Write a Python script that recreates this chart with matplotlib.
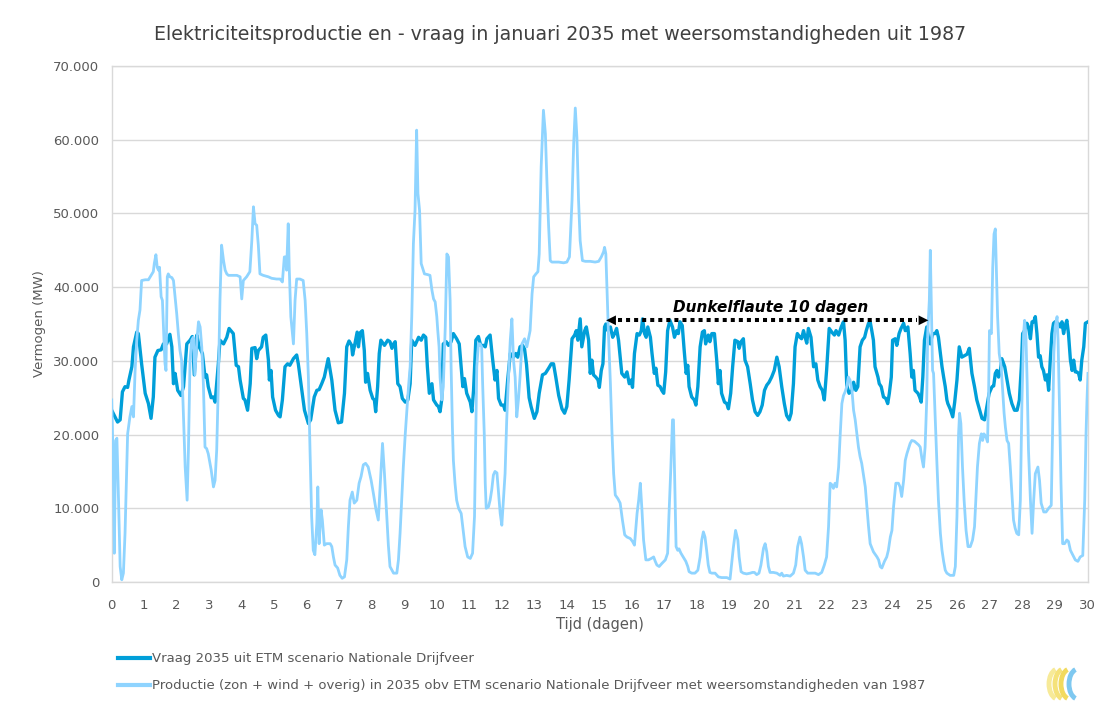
import matplotlib
matplotlib.use("Agg")
import matplotlib.pyplot as plt
from matplotlib.ticker import FuncFormatter, MultipleLocator
from matplotlib.patches import Arc

# ---------------- data (time in days, power in thousands of MW) ----------------
demand_t = [0.00,0.18,0.26,0.33,0.41,0.49,0.53,0.62,0.67,0.77,0.82,0.92,1.03,1.13,1.21,1.28,1.33,1.42,1.52,1.59,1.69,1.79,1.85,1.90,1.95,
            2.03,2.13,2.21,2.31,2.41,2.48,2.54,2.62,2.69,2.79,2.87,2.92,2.97,3.06,3.13,3.18,3.28,3.33,3.44,3.54,3.61,3.74,3.83,3.90,3.95,
            4.05,4.10,4.18,4.26,4.31,4.41,4.46,4.51,4.61,4.66,4.74,4.82,4.85,4.90,4.95,5.04,5.13,5.18,5.25,5.33,5.41,5.48,5.59,5.69,5.74,
            5.82,5.93,6.05,6.12,6.23,6.31,6.38,6.46,6.54,6.66,6.77,6.87,6.97,7.07,7.16,7.23,7.30,7.38,7.41,7.48,7.55,7.59,7.64,7.71,7.77,
            7.81,7.87,7.95,8.03,8.08,8.12,8.18,8.23,8.28,8.39,8.49,8.56,8.62,8.67,8.72,8.80,8.87,8.94,9.03,9.11,9.18,9.23,9.33,9.44,9.52,
            9.59,9.66,9.71,9.77,9.85,9.90,10.00,10.05,10.10,10.15,10.20,10.29,10.36,10.44,10.51,10.61,10.69,10.75,10.80,10.85,10.92,11.03,11.08,11.13,11.20,
            11.28,11.35,11.44,11.49,11.54,11.64,11.71,11.79,11.85,11.90,11.98,12.05,12.10,12.18,12.26,12.36,12.43,12.49,12.56,12.64,12.70,12.76,12.84,12.90,13.00,
            13.08,13.15,13.25,13.34,13.44,13.52,13.59,13.66,13.75,13.85,13.93,14.00,14.07,14.16,14.24,14.29,14.34,14.41,14.46,14.55,14.60,14.67,14.72,14.77,14.82,
            14.89,14.96,15.00,15.06,15.11,15.16,15.20,15.26,15.34,15.41,15.47,15.53,15.59,15.69,15.78,15.85,15.92,15.98,16.02,16.08,16.16,16.23,16.29,16.33,16.39,
            16.44,16.49,16.57,16.62,16.69,16.74,16.80,16.87,16.92,16.98,17.04,17.10,17.17,17.25,17.31,17.38,17.43,17.48,17.55,17.61,17.67,17.72,17.76,17.84,17.92,
            17.97,18.03,18.10,18.17,18.23,18.27,18.35,18.40,18.46,18.54,18.61,18.66,18.71,18.76,18.85,18.92,18.97,19.04,19.10,19.17,19.26,19.30,19.36,19.43,19.48,
            19.56,19.64,19.71,19.79,19.87,19.94,20.01,20.08,20.15,20.22,20.30,20.38,20.46,20.53,20.61,20.69,20.76,20.84,20.90,20.97,21.02,21.09,21.17,21.22,21.28,
            21.33,21.38,21.43,21.51,21.59,21.66,21.72,21.79,21.86,21.92,21.99,22.07,22.15,22.23,22.28,22.36,22.44,22.51,22.56,22.61,22.68,22.77,22.82,22.89,22.95,
            23.02,23.09,23.16,23.21,23.28,23.33,23.38,23.43,23.48,23.57,23.61,23.67,23.74,23.81,23.87,23.92,23.98,24.02,24.10,24.15,24.22,24.28,24.36,24.41,24.49,
            24.56,24.61,24.66,24.71,24.80,24.85,24.90,24.95,25.00,25.07,25.12,25.18,25.25,25.33,25.38,25.43,25.49,25.54,25.59,25.64,25.69,25.72,25.79,25.87,25.93,
            26.00,26.07,26.15,26.23,26.31,26.38,26.46,26.54,26.61,26.70,26.77,26.85,26.92,26.99,27.08,27.13,27.18,27.23,27.28,27.33,27.38,27.47,27.54,27.61,27.69,
            27.77,27.85,27.92,27.98,28.02,28.08,28.15,28.20,28.26,28.31,28.36,28.41,28.46,28.51,28.56,28.61,28.66,28.72,28.77,28.82,28.87,28.92,28.97,29.02,29.11,
            29.18,29.23,29.28,29.33,29.38,29.43,29.49,29.54,29.59,29.64,29.69,29.74,29.79,29.84,29.90,29.95,30.03]
demand_k = [23.3,21.7,22.0,25.8,26.5,26.4,27.4,29.2,31.9,33.9,33.7,29.6,25.6,24.2,22.2,25.1,30.5,31.4,31.5,32.3,32.3,33.6,31.9,26.9,28.3,
            26.0,25.3,26.5,32.3,32.8,33.3,28.1,33.5,31.9,31.0,27.8,28.1,26.5,25.0,25.1,24.4,29.6,32.8,32.3,33.2,34.4,33.7,29.4,29.2,27.4,
            24.9,24.7,23.3,26.9,31.7,31.8,30.3,31.4,31.9,33.2,33.5,30.1,27.4,28.7,25.1,23.3,22.6,22.4,24.7,29.2,29.6,29.4,30.3,30.8,29.6,
            26.9,23.3,21.5,22.0,25.1,26.0,26.1,26.9,27.8,30.3,27.4,23.3,21.6,21.7,25.6,31.9,32.7,32.1,30.8,32.3,33.9,31.9,33.8,34.1,31.4,
            27.1,28.3,26.0,24.9,24.7,23.1,26.5,31.0,32.8,32.1,32.8,32.6,31.7,32.3,32.6,26.9,26.5,24.9,24.4,24.7,26.9,32.8,32.1,33.2,32.8,
            33.5,33.2,29.2,25.6,26.9,24.7,24.0,23.8,23.1,24.7,32.3,32.6,32.1,32.6,33.7,33.0,32.3,29.2,26.5,27.6,25.6,24.4,23.1,26.0,32.8,
            33.3,32.1,32.1,31.9,33.0,33.5,30.5,27.4,28.7,24.9,24.0,24.0,23.3,27.4,31.0,30.5,31.0,30.5,31.9,32.1,31.6,29.5,25.0,23.8,22.2,
            23.1,25.6,28.1,28.3,29.0,29.6,29.6,27.8,25.3,23.5,22.9,23.8,27.4,33.0,33.5,34.1,32.8,35.7,31.9,34.1,34.6,32.8,28.3,30.1,28.1,
            27.8,27.4,26.4,28.7,29.6,34.6,35.0,34.1,34.6,33.2,33.7,34.4,32.8,28.3,27.8,28.5,26.9,27.4,26.4,31.0,33.7,33.5,34.1,35.7,33.7,
            33.2,34.6,33.2,31.0,28.3,29.0,26.7,26.5,26.0,25.6,28.5,34.1,35.5,34.6,33.2,34.1,33.7,35.3,34.8,31.4,28.3,29.4,26.5,25.1,24.7,
            24.0,26.5,31.9,33.9,34.1,32.3,33.5,32.6,33.7,33.7,30.1,26.9,28.7,25.6,24.4,24.2,23.5,25.6,29.2,32.8,32.6,31.7,32.6,33.0,30.1,
            29.2,26.9,24.7,23.1,22.6,23.1,24.0,26.0,26.7,27.1,27.8,28.7,30.5,29.2,26.5,24.2,22.6,22.0,22.9,26.9,31.9,33.7,33.2,33.0,34.1,
            33.2,32.4,34.4,33.2,29.2,29.6,27.4,26.5,26.0,24.7,28.7,34.4,33.9,33.5,34.1,33.5,34.6,35.3,32.8,26.7,25.6,26.0,27.1,26.0,26.5,
            31.9,32.8,33.2,34.1,35.1,35.3,34.1,32.8,29.2,27.8,26.9,26.5,25.1,24.9,24.2,25.6,27.8,32.8,33.0,32.1,33.7,34.4,35.1,34.1,34.6,
            31.0,27.8,28.7,26.0,25.6,25.1,24.4,27.8,32.8,34.6,33.2,32.3,33.7,33.7,34.1,33.2,31.0,29.2,27.8,26.5,24.7,24.2,23.5,22.4,24.4,
            27.4,31.9,30.5,30.7,30.9,31.7,28.3,26.5,24.7,23.3,22.2,22.0,23.8,25.6,26.5,26.6,28.3,28.7,27.8,28.5,30.3,29.2,27.4,25.6,24.2,
            23.3,23.3,24.7,29.2,33.7,34.1,35.1,34.6,33.0,35.3,35.3,36.0,33.7,30.5,30.7,29.2,28.7,27.4,28.1,26.0,30.1,33.7,35.1,35.3,35.1,
            34.6,35.3,33.7,34.8,35.5,33.7,30.1,28.7,30.1,28.5,28.5,28.3,27.4,30.1,31.9,35.1,35.3]

prod_t = [0.00,0.05,0.08,0.12,0.16,0.21,0.26,0.31,0.36,0.41,0.49,0.56,0.62,0.67,0.72,0.77,0.82,0.87,0.92,1.03,1.13,1.21,1.28,1.31,1.36,
          1.40,1.44,1.47,1.52,1.56,1.60,1.64,1.67,1.71,1.74,1.79,1.85,1.90,1.95,2.00,2.05,2.10,2.15,2.21,2.26,2.32,2.36,2.41,2.46,2.51,
          2.56,2.62,2.67,2.72,2.77,2.82,2.87,2.92,2.97,3.06,3.13,3.18,3.23,3.28,3.33,3.38,3.44,3.49,3.54,3.59,3.69,3.85,3.95,4.00,4.05,
          4.15,4.25,4.31,4.36,4.41,4.46,4.51,4.56,4.66,4.82,4.92,5.07,5.18,5.25,5.31,5.35,5.38,5.43,5.46,5.51,5.59,5.64,5.69,5.79,5.89,
          5.95,6.00,6.05,6.10,6.15,6.20,6.25,6.31,6.34,6.38,6.44,6.48,6.54,6.61,6.72,6.77,6.82,6.87,6.95,7.02,7.09,7.16,7.23,7.28,7.33,
          7.40,7.46,7.54,7.61,7.67,7.74,7.81,7.89,7.98,8.05,8.13,8.20,8.25,8.33,8.39,8.46,8.51,8.56,8.67,8.77,8.82,8.87,8.92,8.97,9.03,
          9.08,9.13,9.18,9.23,9.28,9.33,9.38,9.42,9.47,9.52,9.57,9.62,9.72,9.79,9.85,9.90,9.95,10.00,10.03,10.07,10.10,10.15,10.20,10.26,10.31,
          10.36,10.41,10.44,10.48,10.51,10.56,10.61,10.67,10.75,10.82,10.87,10.95,11.03,11.10,11.16,11.20,11.23,11.28,11.33,11.38,11.41,11.46,11.49,11.52,11.59,
          11.64,11.69,11.74,11.79,11.85,11.90,11.95,12.00,12.05,12.10,12.15,12.21,12.26,12.31,12.36,12.41,12.46,12.51,12.56,12.62,12.70,12.77,12.87,12.93,12.98,
          13.05,13.11,13.15,13.21,13.28,13.34,13.39,13.44,13.49,13.54,13.75,13.90,14.00,14.08,14.16,14.21,14.26,14.31,14.36,14.41,14.48,14.57,14.72,14.87,14.98,
          15.06,15.13,15.16,15.20,15.23,15.28,15.34,15.39,15.44,15.49,15.57,15.64,15.71,15.78,15.85,15.95,16.02,16.08,16.16,16.21,16.26,16.31,16.36,16.43,16.51,
          16.60,16.67,16.72,16.77,16.84,16.92,17.03,17.10,17.14,17.20,17.25,17.28,17.31,17.36,17.41,17.45,17.51,17.58,17.66,17.72,17.76,17.84,17.94,18.03,18.10,
          18.15,18.20,18.25,18.30,18.35,18.40,18.46,18.56,18.66,18.76,18.92,19.02,19.07,19.12,19.19,19.26,19.30,19.36,19.43,19.53,19.64,19.71,19.77,19.84,19.91,
          19.97,20.05,20.10,20.15,20.20,20.25,20.35,20.46,20.56,20.61,20.66,20.76,20.87,20.97,21.04,21.10,21.17,21.22,21.28,21.33,21.41,21.54,21.64,21.74,21.84,
          21.92,21.99,22.05,22.10,22.15,22.20,22.25,22.30,22.36,22.41,22.46,22.51,22.56,22.61,22.66,22.71,22.77,22.82,22.87,22.92,22.97,23.02,23.07,23.13,23.18,
          23.23,23.28,23.33,23.43,23.54,23.59,23.64,23.69,23.77,23.84,23.89,23.95,24.00,24.05,24.12,24.20,24.25,24.30,24.36,24.41,24.46,24.51,24.56,24.61,24.69,
          24.77,24.82,24.87,24.92,24.97,25.02,25.07,25.10,25.15,25.18,25.21,25.25,25.28,25.33,25.38,25.43,25.49,25.54,25.59,25.64,25.69,25.79,25.90,25.95,26.00,
          26.05,26.08,26.12,26.17,26.22,26.28,26.34,26.41,26.48,26.54,26.58,26.63,26.69,26.75,26.79,26.83,26.89,26.94,26.97,27.00,27.06,27.10,27.14,27.18,27.21,
          27.25,27.30,27.36,27.40,27.45,27.49,27.54,27.59,27.64,27.69,27.74,27.79,27.84,27.90,27.95,28.00,28.05,28.08,28.12,28.16,28.20,28.26,28.31,28.36,28.41,
          28.49,28.54,28.59,28.67,28.74,28.82,28.90,28.94,28.98,29.02,29.08,29.11,29.15,29.20,29.25,29.31,29.38,29.43,29.49,29.56,29.64,29.72,29.79,29.87,29.93,
          29.97,30.00,30.03]
prod_k = [24.7,15.6,3.9,19.2,19.5,11.1,2.1,0.3,1.2,6.6,20.1,22.4,23.8,22.4,28.7,32.8,35.5,36.9,40.9,41.0,41.0,41.6,42.1,43.2,44.4,
          42.7,42.3,42.7,38.7,38.2,33.7,29.6,28.7,41.4,41.8,41.4,41.3,40.9,38.7,36.4,33.7,31.4,30.1,22.4,15.6,11.1,17.9,30.1,32.8,33.2,
          28.1,32.8,35.3,34.6,31.9,26.9,18.3,18.1,17.4,15.2,12.9,13.8,17.9,26.9,38.2,45.7,43.6,42.3,41.8,41.6,41.6,41.6,41.4,38.4,40.9,
          41.4,42.1,46.3,50.9,48.6,48.4,45.7,41.8,41.6,41.4,41.2,41.1,41.1,40.7,44.1,44.1,42.3,48.6,42.7,36.0,32.3,38.2,41.1,41.1,40.9,
          38.2,33.7,27.8,17.9,8.9,4.3,3.7,8.0,12.9,5.2,9.8,8.4,5.0,5.2,5.2,4.8,3.4,2.3,1.9,0.9,0.5,0.7,3.0,7.5,11.1,
          12.2,10.7,11.1,13.4,14.3,15.9,16.1,15.6,13.8,12.0,9.8,8.4,12.5,18.8,14.7,8.9,5.0,2.1,1.2,1.2,3.0,6.6,11.1,15.6,20.1,
          23.3,26.5,29.2,36.0,45.9,50.4,61.3,52.7,50.4,43.2,42.5,41.8,41.7,41.6,39.6,38.4,38.0,36.0,34.1,31.9,27.8,24.7,26.5,34.6,44.5,
          44.1,38.2,29.2,21.0,16.5,13.4,11.1,10.0,9.3,6.6,4.8,3.4,3.2,3.9,8.9,20.1,29.2,32.3,32.3,31.9,26.9,20.1,13.4,10.0,10.2,
          11.1,12.5,14.5,15.0,14.8,12.0,9.3,7.7,11.1,14.7,21.9,28.3,32.8,35.7,30.1,27.8,22.4,24.7,27.8,32.3,33.0,31.9,34.1,39.1,41.4,
          41.8,42.1,44.5,56.3,64.0,60.8,54.0,48.2,43.6,43.4,43.4,43.3,43.4,44.1,51.8,59.4,64.3,60.3,51.8,46.3,43.6,43.5,43.5,43.4,43.5,
          44.1,44.8,45.4,44.5,40.5,33.7,26.9,20.1,14.7,11.8,11.3,10.7,8.4,6.4,6.1,5.9,5.5,5.0,9.3,11.1,13.4,9.8,5.7,3.0,3.0,
          3.2,3.4,2.8,2.3,2.1,2.5,3.0,3.9,8.9,15.6,22.0,22.0,15.6,4.8,4.3,4.5,3.9,3.4,2.8,2.1,1.4,1.2,1.2,1.6,3.4,
          5.7,6.8,6.1,4.3,2.3,1.3,1.2,1.2,0.7,0.6,0.6,0.4,2.5,4.6,7.0,5.7,3.4,1.4,1.2,1.1,1.2,1.3,1.3,1.0,1.2,
          2.3,4.6,5.2,4.1,2.1,1.3,1.3,1.2,0.9,1.2,0.8,0.9,0.8,1.2,2.3,4.8,6.1,5.2,3.4,1.6,1.2,1.2,1.2,1.0,1.3,
          2.3,3.4,7.5,13.4,13.2,12.7,13.4,12.9,15.6,20.1,24.2,25.3,25.8,26.5,27.8,27.4,26.0,23.3,22.0,20.1,18.3,17.0,16.1,14.3,12.9,
          10.2,7.5,5.2,4.1,3.4,3.0,2.1,1.9,2.8,3.4,4.3,6.1,7.0,10.2,13.4,13.4,12.9,11.6,13.8,16.5,17.4,18.1,18.8,19.2,19.1,
          18.8,18.6,18.3,16.8,15.6,18.3,24.7,33.7,38.2,45.0,38.2,28.7,28.3,22.4,16.5,11.1,6.6,4.3,2.8,1.6,1.2,0.9,0.9,2.1,8.9,
          20.1,22.9,21.5,15.6,11.1,7.0,4.8,4.8,5.7,7.5,11.1,15.6,18.8,20.1,19.2,20.1,19.7,19.0,24.7,34.1,33.7,42.7,47.2,47.9,42.7,
          36.0,31.0,29.2,26.5,22.9,21.0,19.2,18.8,15.6,12.0,8.4,7.3,6.6,6.4,11.1,24.7,33.7,35.5,33.7,26.9,17.9,11.1,6.6,11.1,14.7,
          15.6,13.8,10.7,9.5,9.5,10.0,10.4,20.1,31.0,34.6,36.0,32.8,24.7,13.4,5.2,5.2,5.7,5.5,4.3,3.7,3.0,2.8,3.4,3.6,11.1,
          20.1,24.7,28.3]

day_ticks = list(range(0, 31))
flaute_start, flaute_end, flaute_level = 15.21, 25.12, 35.5   # days, days, thousand MW
flaute_label = "Dunkelflaute 10 dagen"

title = "Elektriciteitsproductie en - vraag in januari 2035 met weersomstandigheden uit 1987"
label_demand = "Vraag 2035 uit ETM scenario Nationale Drijfveer"
label_prod = "Productie (zon + wind + overig) in 2035 obv ETM scenario Nationale Drijfveer met weersomstandigheden van 1987"

# ---------------- figure ----------------
W, H = 1099, 708
fig = plt.figure(figsize=(W / 100, H / 100), dpi=100)
plt.rcParams['font.family'] = ['DejaVu Sans']
ax = fig.add_axes([111.7 / W, 1 - 582 / H, (1088.3 - 111.7) / W, (582 - 66) / H])

c_demand = "#009FD9"
c_prod = "#8FD4FF"
grey_txt = "#595959"
grid_c = "#D9D9D9"

ax.plot(demand_t, [v * 1000 for v in demand_k], color=c_demand, lw=2.4, solid_joinstyle='round', label=label_demand, zorder=3)
ax.plot(prod_t, [v * 1000 for v in prod_k], color=c_prod, lw=2.0, solid_joinstyle='round', label=label_prod, zorder=4)

ax.set_xlim(0, 30.04)
ax.set_ylim(0, 70000)
ax.set_xticks(day_ticks)
ax.yaxis.set_major_locator(MultipleLocator(10000))
ax.yaxis.set_major_formatter(FuncFormatter(lambda v, p: "0" if v == 0 else f"{int(v):,}".replace(",", ".")))
ax.grid(axis='y', color=grid_c, lw=1.0)
ax.set_axisbelow(True)
for s in ax.spines.values():
    s.set_color(grid_c)
    s.set_linewidth(1.0)
ax.tick_params(axis='both', length=0, colors=grey_txt, labelsize=9.5)
ax.tick_params(axis='x', pad=12)
ax.tick_params(axis='y', pad=9)

ax.set_xlabel("Tijd (dagen)", color=grey_txt, fontsize=10.5, labelpad=4)
ax.set_ylabel("Vermogen (MW)", color=grey_txt, fontsize=9.5, labelpad=5)
fig.text(560 / W, 1 - 35 / H, title, ha='center', va='center', color="#404040", fontsize=13.7)

# Dunkelflaute annotation
y_ann = flaute_level * 1000
ax.plot([flaute_start + 0.35, flaute_end - 0.35], [y_ann, y_ann], color='black', lw=2.9,
        linestyle=(0, (1, 1)), dash_capstyle='butt', zorder=6)
for tip, tail in ((flaute_start, flaute_start + 0.5), (flaute_end, flaute_end - 0.5)):
    ax.annotate("", xy=(tip, y_ann), xytext=(tail, y_ann),
                arrowprops=dict(arrowstyle='-|>,head_length=0.7,head_width=0.35', color='black', lw=0.01,
                                shrinkA=0, shrinkB=0), zorder=6)
ax.text((flaute_start + flaute_end) / 2 + 0.1, 37200, flaute_label, ha='center', va='center',
        fontsize=11, fontweight='bold', fontstyle='italic', color='black', zorder=6)

# legend
leg = fig.legend(loc='upper left', bbox_to_anchor=(113 / W, 1 - 647 / H), frameon=False,
                 handlelength=2.4, handletextpad=0.15, labelspacing=1.05, fontsize=9.5, borderaxespad=0)
for t in leg.get_texts():
    t.set_color(grey_txt)
for l in leg.get_lines():
    l.set_linewidth(3)

# small logo (bottom right), drawn in pixel coordinates (origin bottom-left)
for col, dx in (("#F7EA98", -14), ("#F5E27A", -8), ("#F2DA5E", -2), ("#7EC8F0", 6)):
    arc = Arc((1072 + dx, H - 684), 18, 30, theta1=100, theta2=260, color=col, lw=3.5,
              transform=None)
    fig.patches.append(arc)

fig.savefig("out.png", dpi=100)
